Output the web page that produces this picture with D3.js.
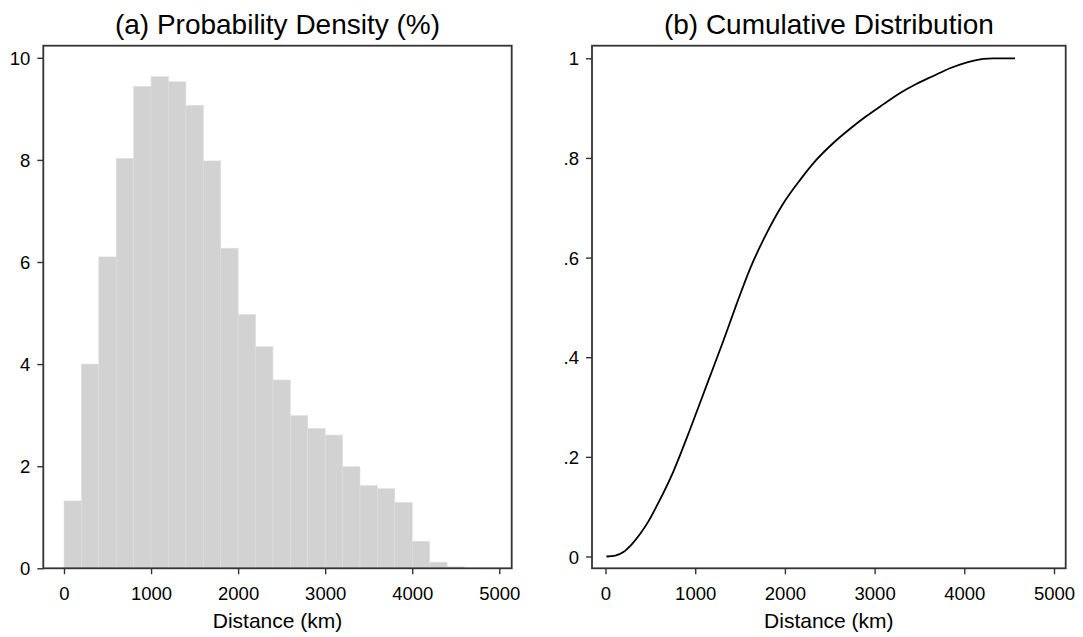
<!DOCTYPE html>
<html>
<head>
<meta charset="utf-8">
<script src="https://cdn.jsdelivr.net/npm/d3@7/dist/d3.min.js"></script>
<style>
  html, body { margin: 0; padding: 0; background: #fff; }
  svg { display: block; font-family: "Liberation Sans", Arial, Helvetica, sans-serif; }
</style>
</head>
<body>
<svg id="chart" width="1083" height="637"></svg>
<script>
// ---------- data ----------
const panelTitles = ["(a) Probability Density (%)", "(b) Cumulative Distribution"];
const xAxisTitle = "Distance (km)";
const xTicks = [0, 1000, 2000, 3000, 4000, 5000];
const densityTicks = [0, 2, 4, 6, 8, 10];
const cdfTicks = [0, 0.2, 0.4, 0.6, 0.8, 1];
const cdfTickLabels = ["0", ".2", ".4", ".6", ".8", "1"];

// histogram: bin start (km), bin width 200 km, density (%)
const binStarts = [0, 200, 400, 600, 800, 1000, 1200, 1400, 1600, 1800, 2000, 2200,
                   2400, 2600, 2800, 3000, 3200, 3400, 3600, 3800, 4000, 4200, 4400];
const binWidth = 200;
const densityPct = [1.32, 4.00, 6.10, 8.03, 9.44, 9.63, 9.53, 9.07, 7.98, 6.27, 4.97, 4.34,
                    3.69, 2.99, 2.74, 2.61, 1.99, 1.62, 1.56, 1.29, 0.53, 0.12, 0.03];

// cumulative distribution curve
const cdfKm  = [10, 110, 200, 290, 385, 480, 570, 755, 940, 1130, 1310, 1460, 1610, 1800,
                1980, 2170, 2350, 2540, 2730, 2910, 3100, 3280, 3470, 3660, 3840, 4030,
                4120, 4210, 4320, 4565];
const cdfVal = [0, 0.002, 0.009, 0.024, 0.045, 0.071, 0.101, 0.170, 0.254, 0.345, 0.431,
                0.506, 0.577, 0.650, 0.708, 0.756, 0.796, 0.830, 0.859, 0.884, 0.908,
                0.930, 0.949, 0.965, 0.980, 0.992, 0.996, 0.999, 1.0, 1.0];

// ---------- layout ----------
const svg = d3.select("#chart");
const frameColor = "#333333";
const panels = [
  { left: 43.3, right: 511.7, top: 45.7, bottom: 568.3, x0: 64, x1: 499.3, y0: 568.3, y1: 57.8 },
  { left: 592, right: 1065.7, top: 45.7, bottom: 568.3, x0: 605.5, x1: 1054, y0: 556.5, y1: 58.3 }
];

function drawFrameAndAxes(p, xScale, yScale, yTickVals, yFmt, title) {
  const g = svg.append("g");
  g.append("rect")
    .attr("x", p.left).attr("y", p.top)
    .attr("width", p.right - p.left).attr("height", p.bottom - p.top)
    .attr("fill", "none").attr("stroke", frameColor).attr("stroke-width", 1.8);

  const xa = g.append("g").attr("transform", `translate(0,${p.bottom})`)
    .call(d3.axisBottom(xScale).tickValues(xTicks).tickSize(6).tickPadding(4).tickFormat(d3.format("d")));
  xa.select(".domain").remove();
  xa.selectAll(".tick line").attr("stroke", frameColor).attr("stroke-width", 1.4);
  xa.selectAll(".tick text").attr("font-size", 18.5).attr("fill", "#000")
    .attr("dy", null).attr("y", 0).attr("transform", "translate(0,31.7)");

  const ya = g.append("g").attr("transform", `translate(${p.left},0)`)
    .call(d3.axisLeft(yScale).tickValues(yTickVals).tickSize(6).tickPadding(7).tickFormat(yFmt));
  ya.select(".domain").remove();
  ya.selectAll(".tick line").attr("stroke", frameColor).attr("stroke-width", 1.4);
  ya.selectAll(".tick text").attr("font-size", 18.5).attr("fill", "#000").attr("dy", "0.36em");

  const cx = (p.left + p.right) / 2;
  svg.append("text").attr("x", cx).attr("y", 33.5).attr("text-anchor", "middle")
    .attr("font-size", 28).attr("fill", "#000").text(title);
  svg.append("text").attr("x", cx).attr("y", 627.5).attr("text-anchor", "middle")
    .attr("font-size", 21).attr("fill", "#000").text(xAxisTitle);
}

// ---------- panel (a): histogram ----------
{
  const p = panels[0];
  const x = d3.scaleLinear().domain([0, 5000]).range([p.x0, p.x1]);
  const y = d3.scaleLinear().domain([0, 10]).range([p.y0, p.y1]);
  svg.append("g").selectAll("rect").data(binStarts).join("rect")
    .attr("x", (d) => x(d))
    .attr("width", (d) => x(d + binWidth) - x(d))
    .attr("y", (d, i) => y(densityPct[i]))
    .attr("height", (d, i) => y(0) - y(densityPct[i]))
    .attr("fill", "#d2d2d2")
    .attr("stroke", "#dedede")
    .attr("stroke-width", 0.6);
  drawFrameAndAxes(p, x, y, densityTicks, d3.format("d"), panelTitles[0]);
}

// ---------- panel (b): CDF ----------
{
  const p = panels[1];
  const x = d3.scaleLinear().domain([0, 5000]).range([p.x0, p.x1]);
  const y = d3.scaleLinear().domain([0, 1]).range([p.y0, p.y1]);
  drawFrameAndAxes(p, x, y, cdfTicks, (d) => cdfTickLabels[cdfTicks.indexOf(d)], panelTitles[1]);
  const line = d3.line()
    .x((d, i) => x(cdfKm[i]))
    .y((d, i) => y(cdfVal[i]))
    .curve(d3.curveMonotoneX);
  svg.append("path").datum(cdfKm)
    .attr("d", line)
    .attr("fill", "none")
    .attr("stroke", "#000")
    .attr("stroke-width", 1.8)
    .attr("stroke-linejoin", "round");
}
</script>
</body>
</html>
